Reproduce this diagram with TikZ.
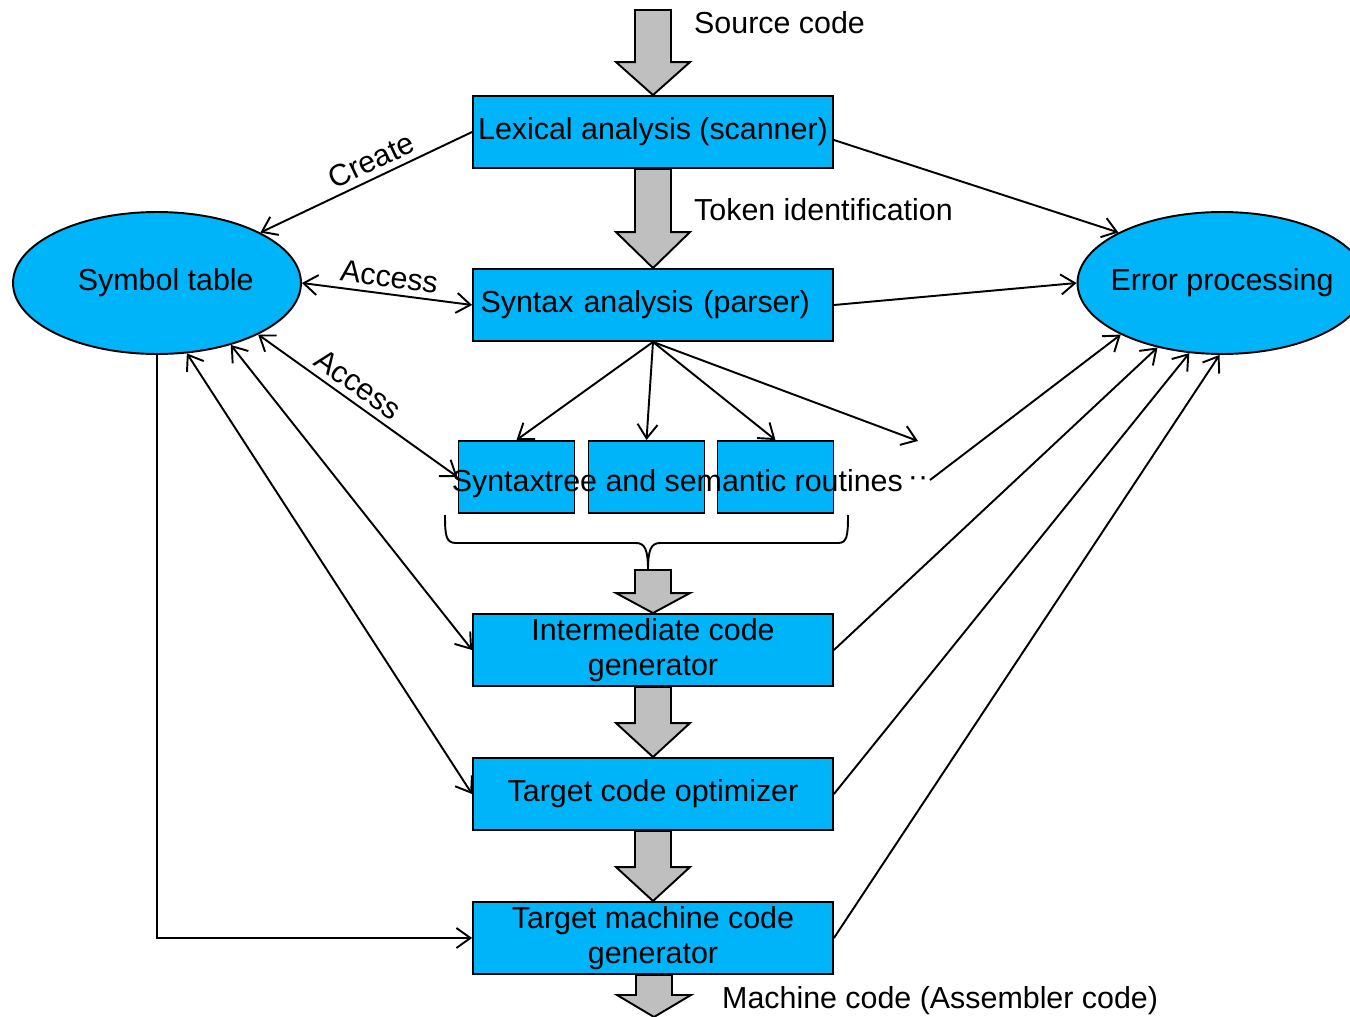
\documentclass[tikz,border=0pt]{standalone}
\usepackage{fontspec}
\setmainfont{Liberation Sans}
\usetikzlibrary{positioning,shapes.geometric,arrows.meta,calc}
\definecolor{boxblue}{RGB}{0,180,250}
\definecolor{fatgray}{RGB}{191,191,191}
% block arrow: start, tip, head length
\newcommand{\fatarrow}[3]{%
  \draw[fat] let \p1=(#1), \p2=(#2) in
    (\x2-0.36cm,\y1) -- (\x2-0.36cm,\y2+#3) -- (\x2-0.74cm,\y2+#3) -- (\x2,\y2)
    -- (\x2+0.74cm,\y2+#3) -- (\x2+0.36cm,\y2+#3) -- (\x2+0.36cm,\y1) -- cycle;}

\begin{document}
\begin{tikzpicture}[x=0.02cm,y=-0.02cm,
    every node/.style={font=\fontsize{17.3}{20}\selectfont},
    >={Straight Barb[length=2.8mm,width=4mm]},
    stage/.style={draw,fill=boxblue,line width=1.1pt,minimum width=7.2cm,minimum height=1.44cm,inner sep=1pt,align=center},
    routine/.style={draw,fill=boxblue,line width=1.1pt,minimum width=2.32cm,minimum height=1.44cm},
    blob/.style={ellipse,draw,fill=boxblue,line width=1.1pt,minimum width=5.76cm,minimum height=2.84cm,inner sep=0pt},
    conn/.style={line width=1.1pt},
    fat/.style={draw,fill=fatgray,line width=1.1pt,line join=miter}]
    \useasboundingbox (0,0) rectangle (1350,1017);

    % stages
    \node[stage] (lex) at (653,132) {Lexical analysis (scanner)};
    \node[stage,text width=6.9cm,align=left] (syn) at (653,305) {Syntax analysis (parser)};
    \node[routine] (st1) at (516.5,477) {};
    \node[routine] (st2) at (646.5,477) {};
    \node[routine] (st3) at (775.5,477) {};
    \node (stx) at (690,484) {Syntaxtree and semantic routines\,\raisebox{.35ex}{··}};
    \node[stage] (int) at (653,650) {Intermediate code\\generator};
    \node[stage] (tco) at (653,794) {Target code optimizer};
    \node[stage] (tmcg) at (653,938) {Target machine code\\generator};

    \node[blob,inner xsep=-4pt] (sym) at (157,283) {\hspace*{10pt}Symbol table};
    \node[blob,minimum width=5.78cm,inner xsep=-8pt] (err) at (1222,283) {Error processing};

    \node[anchor=west] (srclbl) at (688,23) {Source code};
    \node[anchor=west] (toklbl) at (688,210) {Token identification};
    \node[anchor=west] (mclbl) at (716,1001) {Machine code (Assembler code)};

    \coordinate (src) at (654,10);
    \coordinate (mout) at (654,1017);
    \coordinate (more) at (918,441);
    \coordinate (dots) at (930,480);
    \coordinate (brtip) at (648,570);

    % brace under the routines
    \draw[conn] (445,515) .. controls (445,536) and (446,543) .. (456,543) -- (636,543)
        .. controls (645,543) and (648,550) .. (brtip)
        .. controls (648,550) and (651,543) .. (660,543) -- (838,543)
        .. controls (847,543) and (848,536) .. (848,515);

    % block arrows
    \fatarrow{src}{lex.north}{0.66cm}
    \fatarrow{lex.south}{syn.north}{0.72cm}
    \fatarrow{brtip}{int.north}{0.40cm}
    \fatarrow{int.south}{tco.north}{0.68cm}
    \fatarrow{tco.south}{tmcg.north}{0.68cm}
    \fatarrow{tmcg.south}{mout}{0.44cm}

    % symbol table
    \draw[conn,<-] (sym.26) -- node[above,sloped,pos=0.56] {Create} (lex.west);
    \draw[conn,<->] (sym.east) -- node[above,sloped] {Access} (syn.west);
    \draw[conn,<->] (sym.-27) -- node[above,sloped,pos=0.45] {Access} (st1.west);
    \draw[conn,<->] (sym.-40) -- (int.west);
    \draw[conn,<->] (sym.-67) -- (tco.west);
    \draw[conn,->] (sym.south) |- (tmcg.west);

    % parser to routines
    \draw[conn,->] (syn.south) -- (st1.north);
    \draw[conn,->] (syn.south) -- (st2.north);
    \draw[conn,->] (syn.south) -- (st3.north);
    \draw[conn,->] (syn.south) -- (more);

    % error processing
    \draw[conn,->] ($(lex.east)+(0,8)$) -- (err.154);
    \draw[conn,->] (syn.east) -- (err.west);
    \draw[conn,->] (dots) -- (err.207);
    \draw[conn,->] (int.east) -- (err.225);
    \draw[conn,->] (tco.east) -- (err.245);
    \draw[conn,->] (tmcg.east) -- (err.268);
\end{tikzpicture}
\end{document}
